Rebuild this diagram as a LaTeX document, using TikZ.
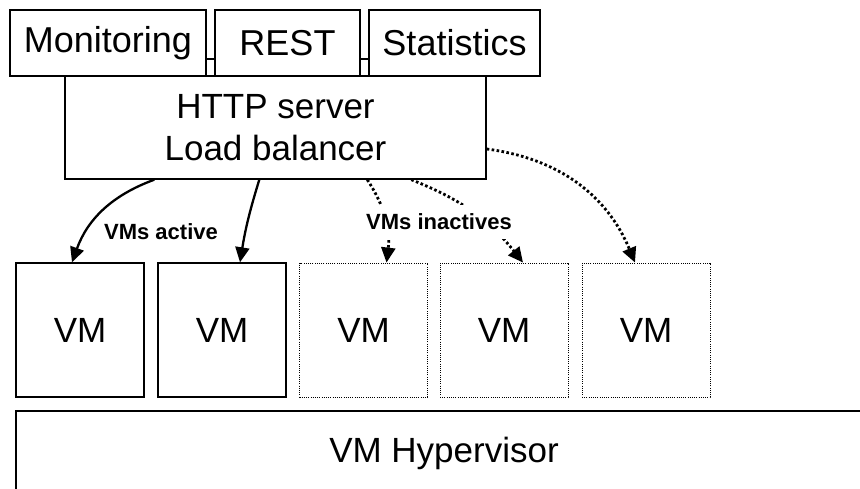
\documentclass[tikz,border=0pt]{standalone}
\usepackage{fontspec}
\setmainfont{Liberation Sans}
\usetikzlibrary{arrows.meta}

\begin{document}
\begin{tikzpicture}[x=1pt,y=-1pt,
	box/.style={shape=rectangle,draw=black,line width=1.4pt,inner sep=0pt,font=\fontsize{35}{42}\selectfont},
	vmbox/.style={box,minimum width=128pt,minimum height=134pt},
	idle/.style={vmbox,line width=0.9pt,dash pattern=on 1pt off 1.2pt},
	link/.style={-{Triangle[length=15pt,width=14pt]},line width=2.3pt},
	idlelink/.style={link,line width=2.8pt,dash pattern=on 2.6pt off 2.4pt},
	lbl/.style={font=\fontsize{22}{26}\selectfont\bfseries,fill=white,inner sep=6pt}]

	\useasboundingbox (0,0) rectangle (860,489);

	\node[box,minimum width=196pt,minimum height=66pt,font=\fontsize{36}{42}\selectfont] (a) at (108,43) {Monitoring};
	\node[box,minimum width=145pt,minimum height=66pt,font=\fontsize{36}{42}\selectfont] (b) at (287.5,43) {REST};
	\node[box,minimum width=171pt,minimum height=66pt,font=\fontsize{36}{42}\selectfont] (c) at (454.5,43) {Statistics};
	\node[box,minimum width=421pt,minimum height=103pt,align=center] (d) at (275.5,127.5) {HTTP server\\Load balancer};
	\node[vmbox] (e) at (80,330) {VM};
	\node[vmbox] (f) at (222,330) {VM};
	\node[idle] (g) at (363.5,330) {VM};
	\node[idle] (h) at (504,330) {VM};
	\node[idle] (i) at (646,330) {VM};
	\node[box,minimum width=856pt,minimum height=84pt] (j) at (444,453) {VM Hypervisor};

	\draw[line width=1.2pt] ([yshift=-16pt]a.east) -- ([yshift=-16pt]b.west);
	\draw[line width=1.2pt] ([yshift=-16pt]b.east) -- ([yshift=-16pt]c.west);

	\path[link] ([xshift=90pt]d.south west) edge [bend right=25] ([xshift=-8pt]e.north);
	\path[link] ([xshift=195pt]d.south west) edge [bend right=4] ([xshift=18pt]f.north);
	\path[idlelink] ([xshift=303pt]d.south west) edge [bend left=20] ([xshift=23pt]g.north);
	\path[idlelink] ([xshift=347pt]d.south west) edge [bend left=15] ([xshift=19pt]h.north);
	\path[idlelink] ([yshift=-21.5pt]d.east) edge [bend left=30] ([xshift=-11pt]i.north);

	\node[lbl] (k) at (161,232) {VMs active};
	\node[lbl,inner ysep=9pt] (l) at (439,222) {VMs inactives};

\end{tikzpicture}
\end{document}
